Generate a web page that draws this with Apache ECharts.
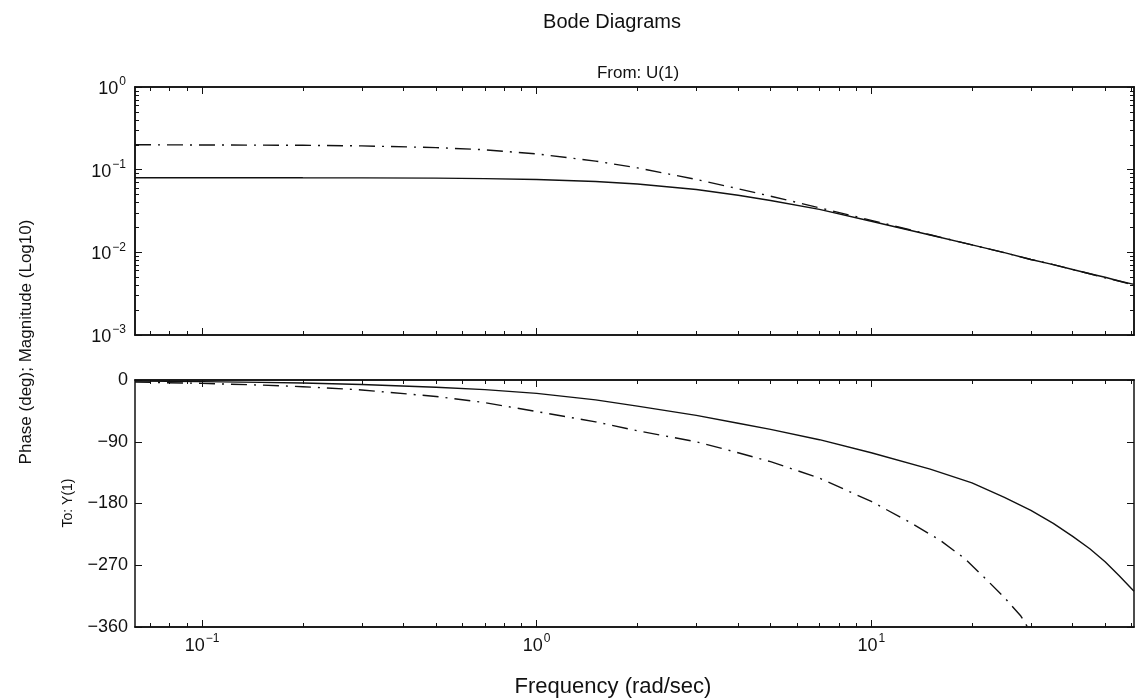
<!DOCTYPE html>
<html lang="en">
<head>
<meta charset="UTF-8" />
<title>Bode Diagrams</title>
<script src="https://cdn.jsdelivr.net/npm/echarts@6/dist/echarts.min.js"></script>
<style>
  html, body { margin: 0; padding: 0; background: #fff; }
  #main { width: 1139px; height: 700px; }
</style>
</head>
<body>
<div id="main"></div>
<script>
const freq = [0.063, 0.1, 0.15, 0.2, 0.3, 0.5, 0.7, 1, 1.5, 2, 3, 4, 5, 7, 10, 15, 20, 25, 30, 35, 40, 45, 50, 55, 61]
// magnitude (log10 axis)
const magSolid = [0.080, 0.080, 0.080, 0.0798, 0.0796, 0.079, 0.078, 0.0761, 0.072, 0.0672, 0.0575, 0.049, 0.0424, 0.0331, 0.0238, 0.0162, 0.0123, 0.0099, 0.0082, 0.0071, 0.0062, 0.0055, 0.0050, 0.0045, 0.0041]
const magDash = [0.200, 0.199, 0.198, 0.197, 0.194, 0.185, 0.174, 0.155, 0.127, 0.105, 0.0762, 0.0588, 0.0478, 0.0346, 0.0244, 0.0163, 0.0123, 0.0099, 0.0082, 0.0071, 0.0062, 0.0055, 0.0049, 0.0045, 0.0040]
// phase (deg)
const phaseSolid = [-1.5, -2.3, -3.4, -4.4, -6.5, -10.5, -14, -19.5, -29, -38, -51.5, -63, -72, -87, -106, -130, -150, -171, -190, -209, -228, -246, -265, -285, -308]
// dash-dot phase runs out of the box at -360
const freqDash = [0.063, 0.1, 0.15, 0.2, 0.3, 0.5, 0.7, 1, 1.5, 2, 3, 4, 5, 7, 10, 13, 16, 19, 22, 25, 28, 29.3]
const phaseDash = [-3, -4.9, -7.4, -9.8, -14.5, -24, -33, -46, -61, -74, -90, -106, -119, -143, -177, -207, -233, -260, -290, -317, -344, -360]

// ticks
const freqMajor = [0.1, 1, 10]
const freqMinor = [0.07, 0.08, 0.09, 0.2, 0.3, 0.4, 0.5, 0.6, 0.7, 0.8, 0.9, 2, 3, 4, 5, 6, 7, 8, 9, 20, 30, 40, 50, 60]
const magMajor = [0.001, 0.01, 0.1, 1]
const magMinor = [0.002, 0.003, 0.004, 0.005, 0.006, 0.007, 0.008, 0.009, 0.02, 0.03, 0.04, 0.05, 0.06, 0.07, 0.08, 0.09, 0.2, 0.3, 0.4, 0.5, 0.6, 0.7, 0.8, 0.9]

const fMin = 0.063
const fMax = 61
const FONT = '"Liberation Sans", Arial, Helvetica, sans-serif'
const INK = '#111'

// "10" with a raised exponent
const supRich = {
  b: { fontFamily: FONT, fontSize: 18, color: INK, lineHeight: 22, verticalAlign: 'bottom' },
  s: { fontFamily: FONT, fontSize: 12, color: INK, lineHeight: 12, verticalAlign: 'top', padding: [0, 0, 0, 1] },
}

function pow10Label(v) {
  const e = Math.round(Math.log10(v))
  return '{b|10}{s|' + (e < 0 ? '\u2212' + -e : e) + '}'
}

function freqAxis(grid, pos, ticks, len, labels) {
  return {
    type: 'log', logBase: 10, gridIndex: grid, position: pos, min: fMin, max: fMax,
    axisLine: { show: true, onZero: false, lineStyle: { color: INK, width: 1.5 } },
    axisTick: { show: true, inside: true, length: len, customValues: ticks, lineStyle: { color: INK, width: 1 } },
    axisLabel: labels
      ? { show: true, customValues: freqMajor, formatter: pow10Label, rich: supRich, margin: 6 }
      : { show: false },
    splitLine: { show: false },
  }
}

function magAxis(pos, ticks, len, labels) {
  return {
    type: 'log', logBase: 10, gridIndex: 0, position: pos, min: 0.001, max: 1,
    axisLine: { show: true, onZero: false, lineStyle: { color: INK, width: 1.5 } },
    axisTick: { show: true, inside: true, length: len, customValues: ticks, lineStyle: { color: INK, width: 1 } },
    axisLabel: labels
      ? { show: true, customValues: magMajor, formatter: pow10Label, rich: supRich, margin: 9 }
      : { show: false },
    splitLine: { show: false },
  }
}

function phaseAxis(pos, labels) {
  return {
    type: 'value', gridIndex: 1, position: pos, min: -360, max: 0, interval: 90,
    axisLine: { show: true, onZero: false, lineStyle: { color: INK, width: 1.5 } },
    axisTick: { show: true, inside: true, length: 7, lineStyle: { color: INK, width: 1 } },
    axisLabel: {
      show: labels, margin: 7, fontFamily: FONT, fontSize: 18, color: INK,
      formatter: (v) => (v < 0 ? '\u2212' + -v : String(v)),
    },
    splitLine: { show: false },
  }
}

function curve(xi, yi, xs, ys, dashed) {
  return {
    type: 'line', xAxisIndex: xi, yAxisIndex: yi,
    data: xs.map((x, i) => [x, ys[i]]),
    symbol: 'none', silent: true,
    lineStyle: { color: INK, width: 1.4, type: dashed ? [16, 7, 2, 7] : 'solid' },
  }
}

const chart = echarts.init(document.getElementById('main'))
chart.setOption({
  animation: false,
  backgroundColor: '#fff',
  grid: [
    { left: 135, right: 5, top: 87, height: 248, outerBoundsMode: 'none' },
    { left: 135, right: 5, top: 380, height: 247, outerBoundsMode: 'none' },
  ],
  xAxis: [
    freqAxis(0, 'bottom', freqMajor, 7, false),
    freqAxis(0, 'bottom', freqMinor, 4, false),
    freqAxis(0, 'top', freqMajor, 7, false),
    freqAxis(0, 'top', freqMinor, 4, false),
    freqAxis(1, 'bottom', freqMajor, 7, true),
    freqAxis(1, 'bottom', freqMinor, 4, false),
    freqAxis(1, 'top', freqMajor, 7, false),
    freqAxis(1, 'top', freqMinor, 4, false),
  ],
  yAxis: [
    magAxis('left', magMajor, 7, true),
    magAxis('left', magMinor, 4, false),
    magAxis('right', magMajor, 7, false),
    magAxis('right', magMinor, 4, false),
    phaseAxis('left', true),
    phaseAxis('right', false),
  ],
  series: [
    curve(0, 0, freq, magSolid, false),
    curve(0, 0, freq, magDash, true),
    curve(4, 4, freq, phaseSolid, false),
    curve(4, 4, freqDash, phaseDash, true),
  ],
  graphic: [
    { type: 'text', x: 612, y: 22, style: { text: 'Bode Diagrams', font: '20px ' + FONT, fill: INK, textAlign: 'center', textVerticalAlign: 'middle' } },
    { type: 'text', x: 638, y: 73, style: { text: 'From: U(1)', font: '17px ' + FONT, fill: INK, textAlign: 'center', textVerticalAlign: 'middle' } },
    { type: 'text', x: 26, y: 342, rotation: Math.PI / 2, style: { text: 'Phase (deg); Magnitude (Log10)', font: '17px ' + FONT, fill: INK, textAlign: 'center', textVerticalAlign: 'middle' } },
    { type: 'text', x: 68, y: 503, rotation: Math.PI / 2, style: { text: 'To: Y(1)', font: '14px ' + FONT, fill: INK, textAlign: 'center', textVerticalAlign: 'middle' } },
    { type: 'text', x: 613, y: 687, style: { text: 'Frequency (rad/sec)', font: '22px ' + FONT, fill: INK, textAlign: 'center', textVerticalAlign: 'middle' } },
  ],
})
</script>
</body>
</html>
